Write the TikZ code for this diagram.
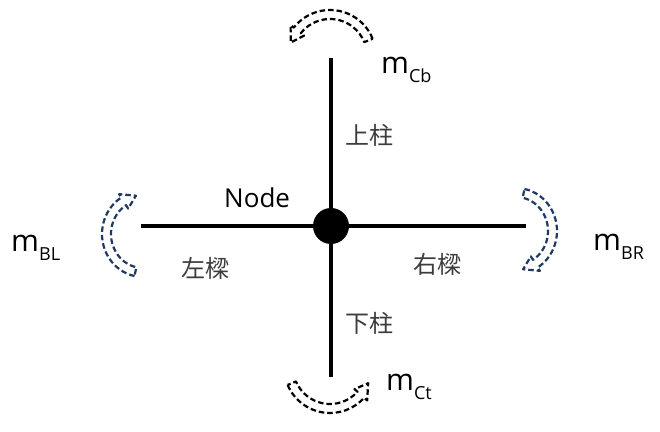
\documentclass[tikz,border=0pt]{standalone}
\usepackage{fontspec}
\setmainfont{Open Sans}
\newfontfamily\cjk{Noto Sans CJK KR}
\usetikzlibrary{positioning}
\definecolor{navy}{RGB}{31,56,100}
\definecolor{cjkgray}{RGB}{60,60,60}
\newcommand{\mlabel}[1]{\fontsize{30}{30}\selectfont m\raisebox{-9pt}{\fontsize{18}{18}\selectfont #1}}
\tikzset{member/.style = {line width=4pt},
  joint/.style = {circle, fill=black, minimum size=36pt, inner sep=0pt},
  moment/.style = {line width=2.2pt, dash pattern=on 5.5pt off 3pt, line join=round},
  momlabel/.style = {anchor=base west, inner sep=0pt},
  cjklabel/.style = {inner sep=0pt, text=cjkgray, font=\cjk\fontsize{24}{24}\selectfont}}

\begin{document}
\begin{tikzpicture}[x=1pt, y=1pt]
\useasboundingbox (0,0) rectangle (660,431);
\node[joint] (joint) at (331,205) {};
\coordinate (colTop) at (331,373);
\coordinate (colBot) at (331,54);
\coordinate (beamL) at (141,205);
\coordinate (beamR) at (526,205);
\draw[member] (colTop) -- (joint.center) -- (colBot);
\draw[member] (beamL) -- (joint.center) -- (beamR);
% moment arrows
\begin{scope}[shift={(330,375)}]
\draw[moment] (22:46pt) arc[start angle=22, end angle=142, radius=46pt] -- (142:50pt) -- (161:41.5pt) -- (142:33pt) -- (142:37pt) arc[start angle=142, end angle=22, radius=37pt] -- cycle;
\end{scope}
\begin{scope}[shift={(330,64)}]
\draw[moment] (203:46pt) arc[start angle=203, end angle=318, radius=46pt] -- (318:50pt) -- (337:41.5pt) -- (318:33pt) -- (318:37pt) arc[start angle=318, end angle=203, radius=37pt] -- cycle;
\end{scope}
\begin{scope}[shift={(143,197)}]
\draw[moment, navy] (258:41pt and 43pt) arc[start angle=258, end angle=122, x radius=41pt, y radius=43pt] -- (122:45pt and 47pt) -- (101:37pt and 39pt) -- (122:28pt and 30pt) -- (122:32pt and 34pt) arc[start angle=122, end angle=258, x radius=32pt, y radius=34pt] -- cycle;
\end{scope}
\begin{scope}[shift={(516,200)}]
\draw[moment, navy] (78:41pt and 43pt) arc[start angle=78, end angle=-58, x radius=41pt, y radius=43pt] -- (-58:45pt and 47pt) -- (-79:37pt and 39pt) -- (-58:28pt and 30pt) -- (-58:32pt and 34pt) arc[start angle=-58, end angle=78, x radius=32pt, y radius=34pt] -- cycle;
\end{scope}
% labels
\node[momlabel] (mCb) at (381,357) {\mlabel{Cb}};
\node[momlabel] (mCt) at (386,41) {\mlabel{Ct}};
\node[momlabel] (mBL) at (11,179) {\mlabel{BL}};
\node[momlabel] (mBR) at (593,180) {\mlabel{BR}};
\node[momlabel, font=\fontsize{26}{26}\selectfont] (nodeLbl) at (224,223) {Node};
\node[cjklabel] (colUp) at (369,296) {上柱};
\node[cjklabel] (colDn) at (369,108) {下柱};
\node[cjklabel] (beamLt) at (205,163) {左樑};
\node[cjklabel] (beamRt) at (437,167) {右樑};
\end{tikzpicture}
\end{document}
